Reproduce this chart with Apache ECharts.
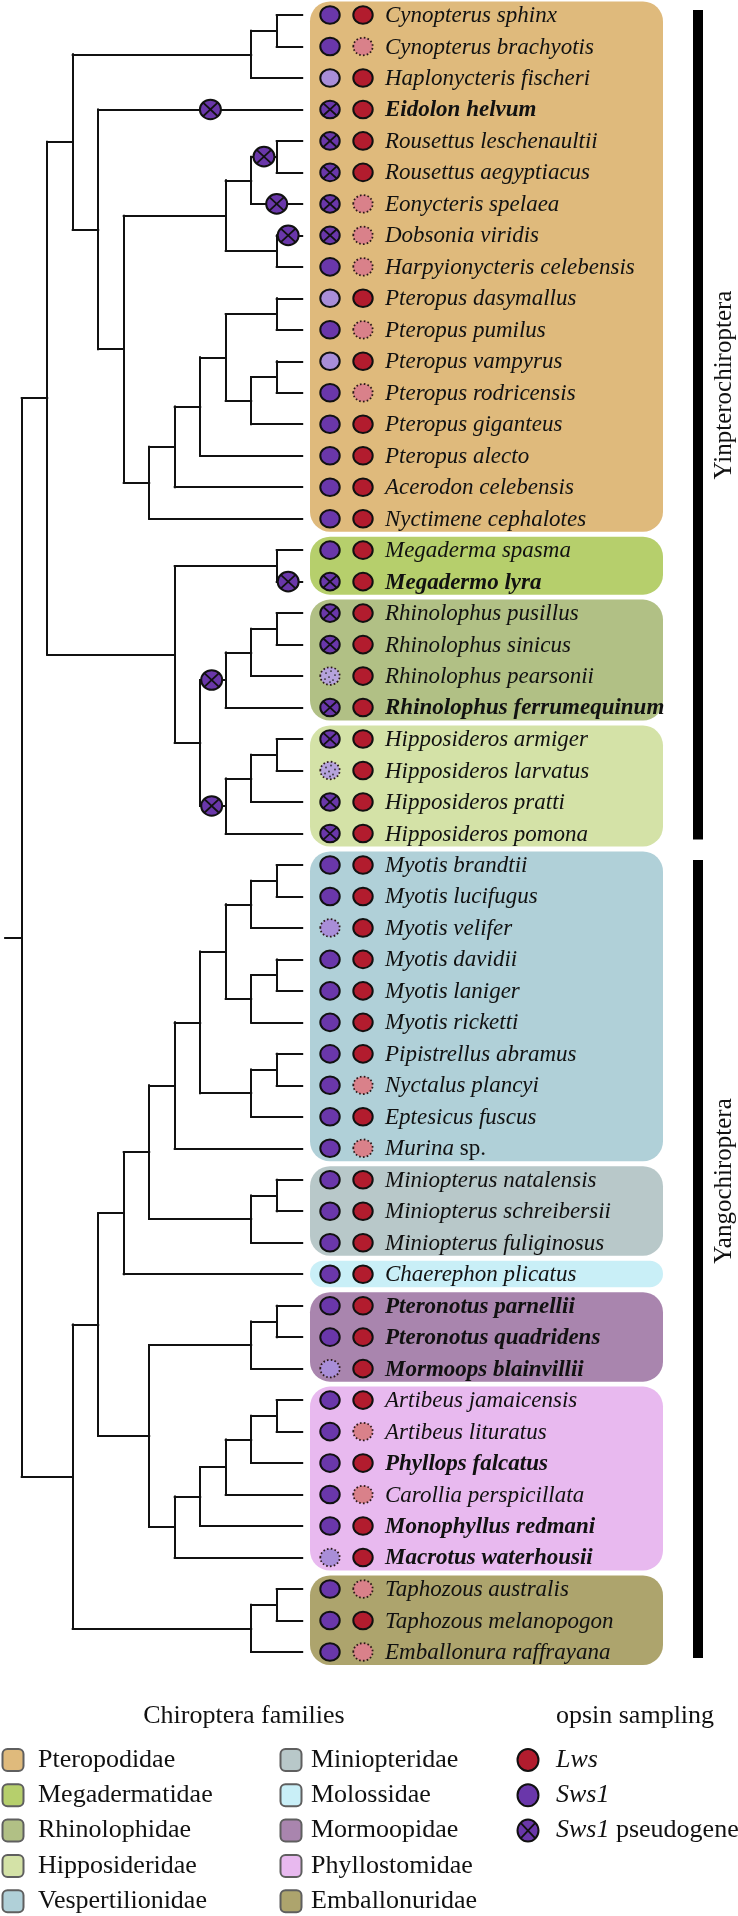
<!DOCTYPE html>
<html><head><meta charset="utf-8">
<script src="https://cdn.jsdelivr.net/npm/echarts@6/dist/echarts.min.js"></script>
<style>html,body{margin:0;padding:0;background:#fff}#chart{width:738px;height:1916px}</style>
</head><body><div id="chart"></div>
<script>
// ---------------- DATA ----------------
const species = ['Cynopterus sphinx','Cynopterus brachyotis','Haplonycteris fischeri','Eidolon helvum','Rousettus leschenaultii','Rousettus aegyptiacus','Eonycteris spelaea','Dobsonia viridis','Harpyionycteris celebensis','Pteropus dasymallus','Pteropus pumilus','Pteropus vampyrus','Pteropus rodricensis','Pteropus giganteus','Pteropus alecto','Acerodon celebensis','Nyctimene cephalotes','Megaderma spasma','Megadermo lyra','Rhinolophus pusillus','Rhinolophus sinicus','Rhinolophus pearsonii','Rhinolophus ferrumequinum','Hipposideros armiger','Hipposideros larvatus','Hipposideros pratti','Hipposideros pomona','Myotis brandtii','Myotis lucifugus','Myotis velifer','Myotis davidii','Myotis laniger','Myotis ricketti','Pipistrellus abramus','Nyctalus plancyi','Eptesicus fuscus','Murina sp.','Miniopterus natalensis','Miniopterus schreibersii','Miniopterus fuliginosus','Chaerephon plicatus','Pteronotus parnellii','Pteronotus quadridens','Mormoops blainvillii','Artibeus jamaicensis','Artibeus lituratus','Phyllops falcatus','Carollia perspicillata','Monophyllus redmani','Macrotus waterhousii','Taphozous australis','Taphozous melanopogon','Emballonura raffrayana'];
const boldSpecies = ['Eidolon helvum','Megadermo lyra','Rhinolophus ferrumequinum','Pteronotus parnellii','Pteronotus quadridens','Mormoops blainvillii','Phyllops falcatus','Monophyllus redmani','Macrotus waterhousii'];
// S intact, L light, X pseudogene, D uncertain (dotted), P uncertain speckled
const sws1Status = ['S','S','L','X','X','X','X','X','S','L','S','L','S','S','S','S','S','S','X','X','X','P','X','X','P','X','X','S','S','D','S','S','S','S','S','S','S','S','S','S','S','S','S','D','S','S','S','S','S','D','S','S','S'];
// S intact, D uncertain (dotted)
const lwsStatus = ['S','D','S','S','S','S','D','D','D','S','D','S','D','S','S','S','S','S','S','S','S','S','S','S','S','S','S','S','S','S','S','S','S','S','D','S','D','S','S','S','S','S','S','S','S','D','S','D','S','S','D','S','D'];
const families = ['Pteropodidae','Megadermatidae','Rhinolophidae','Hipposideridae','Vespertilionidae','Miniopteridae','Molossidae','Mormoopidae','Phyllostomidae','Emballonuridae'];
const familyColors = ['#dfba7c','#b6cf6c','#b1c085','#d4e2a7','#b0d0d8','#b8c8c9','#c9eff7','#a985ae','#e8b9ef','#ada46d'];
const familyFirstRow = [0,17,19,23,27,37,40,41,44,50];
const familyLastRow = [16,18,22,26,36,39,40,43,49,52];
const suborders = ['Yinpterochiroptera','Yangochiroptera'];
const suborderFirstRow = [0,27];
const suborderLastRow = [26,52];
// cladogram: [nodeLevel, child, child...], leaf = row index
const treeNested =
[0,
  [1,
    [2,
      [9, [10, 0, 1], 2],
      [3, 3,
        [4,
          [8, [9, [10, 4, 5], 6], [10, 7, 8]],
          [5, [6, [7, [8, [10, 9, 10], [9, [10, 11, 12], 13]], 14], 15], 16]
        ]
      ]
    ],
    [6,
      [10, 17, 18],
      [7,
        [8, [9, [10, 19, 20], 21], 22],
        [8, [9, [10, 23, 24], 25], 26]
      ]
    ]
  ],
  [2,
    [3,
      [4,
        [5,
          [6, [7, [8, [9, [10, 27, 28], 29], [9, [10, 30, 31], 32]], [9, [10, 33, 34], 35]], 36],
          [9, [10, 37, 38], 39]
        ],
        40
      ],
      [5,
        [9, [10, 41, 42], 43],
        [6, [7, [8, [9, [10, 44, 45], 46], 47], 48], 49]
      ]
    ],
    [9, [10, 50, 51], 52]
  ]
];
// branches carrying an Sws1 pseudogenization event (clade first row, last row, fraction along branch)
const pseudogeneBranchFirst = [3,4,6,7,18,19,23];
const pseudogeneBranchLast  = [3,5,6,7,18,22,26];
const pseudogeneBranchFrac  = [0.55,0.5,0.5,0.45,0.45,0.45,0.45];
const opsinLegendLabels = ['Lws','Sws1','Sws1 pseudogene'];

// ---------------- LAYOUT ----------------
const W = 738, H = 1916;
const ROW0_PX = 15, ROW_PX = 31.48, LEVEL0_PX = 21.7, LEVEL_PX = 25.5;
const XMIN = -LEVEL0_PX / LEVEL_PX, XMAX = XMIN + W / LEVEL_PX;
const YMIN = -ROW0_PX / ROW_PX, YMAX = YMIN + H / ROW_PX;
const LEAF_LEVEL = 11, ROOT_STUB = -0.65;
const SWS_X = 330, LWS_X = 363, TEXT_X = 385, BOX_L = 310, BOX_R = 663;
const BAR_X = 698, BAR_W = 10, BAR_LABEL_X = 724;
const SUB_LABEL_Y = [385, 1181];
const SERIF = '"Liberation Serif","Times New Roman",serif';
const SP_FONT = 23;
const C = {purple:'#6a37aa', lightPurple:'#a98ed8', red:'#b21c2e', pink:'#d9818a', line:'#111'};

// ---------------- TREE ----------------
function build(node){
  if (typeof node === 'number') return {level: LEAF_LEVEL, y: node, first: node, last: node, kids: null};
  const kids = node.slice(1).map(build);
  return {level: node[0], y: (kids[0].y + kids[kids.length-1].y) / 2, first: kids[0].first, last: kids[kids.length-1].last, kids};
}
const root = build(treeNested);
const edges = [], branches = {};
(function walk(n){
  if (!n.kids) return;
  edges.push({coords: [[n.level, n.kids[0].y], [n.level, n.kids[n.kids.length-1].y]]});
  n.kids.forEach(c => {
    edges.push({coords: [[n.level, c.y], [c.level, c.y]]});
    branches[c.first + '-' + c.last] = {x0: n.level, x1: c.level, y: c.y};
    walk(c);
  });
})(root);
edges.push({coords: [[ROOT_STUB, root.y], [0, root.y]]});
const markerData = pseudogeneBranchFirst.map((f, i) => {
  const b = branches[f + '-' + pseudogeneBranchLast[i]];
  return [b.x0 + (b.x1 - b.x0) * pseudogeneBranchFrac[i], b.y];
});

// ---------------- SYMBOLS ----------------
function opsinSymbol(type, cx, cy, lws, rx, ry){
  rx = rx || 9.7; ry = ry || 8.8;
  const els = [];
  const dash = [1.6, 2.2];
  if (type === 'S') {
    els.push({type:'ellipse', shape:{cx, cy, rx, ry}, style:{fill: lws ? C.red : C.purple, stroke:'#111', lineWidth:2}});
  } else if (type === 'L') {
    els.push({type:'ellipse', shape:{cx, cy, rx, ry}, style:{fill: C.lightPurple, stroke:'#111', lineWidth:2}});
  } else if (type === 'D') {
    els.push({type:'ellipse', shape:{cx, cy, rx, ry}, style:{fill: lws ? C.pink : C.lightPurple, stroke:'#2a1717', lineWidth:1.8, lineDash: dash}});
  } else if (type === 'P') {
    els.push({type:'ellipse', shape:{cx, cy, rx, ry}, style:{fill: '#b6a3dc', stroke:'#2a1717', lineWidth:1.8, lineDash: dash}});
    [[-4,-3],[1,-5],[5,-1],[-1,1],[3,4],[-5,3],[0,6]].forEach(d => {
      els.push({type:'circle', shape:{cx: cx + d[0], cy: cy + d[1], r: 0.9}, style:{fill:'#333'}});
    });
  } else if (type === 'X') {
    els.push({type:'ellipse', shape:{cx, cy, rx, ry}, style:{fill: C.purple, stroke:'#111', lineWidth:2}});
    const dx = rx * 0.72, dy = ry * 0.72;
    els.push({type:'line', shape:{x1: cx - dx, y1: cy - dy, x2: cx + dx, y2: cy + dy}, style:{stroke:'#111', lineWidth:1.8}});
    els.push({type:'line', shape:{x1: cx - dx, y1: cy + dy, x2: cx + dx, y2: cy - dy}, style:{stroke:'#111', lineWidth:1.8}});
  }
  return els;
}

function speciesText(name){
  const bold = boldSpecies.indexOf(name) >= 0;
  const w = bold ? 'bold' : 'normal';
  if (/ sp\.$/.test(name)) {
    return {text: '{i|' + name.replace(/ sp\.$/, '') + '}{n| sp.}', w};
  }
  return {text: '{i|' + name + '}', w};
}

// ---------------- CHART ----------------
const chart = echarts.init(document.getElementById('chart'), null, {renderer:'canvas'});
const rowPx = (api, r) => api.coord([0, r])[1];

const legendEls = [];
legendEls.push({type:'text', x:244, y:1716, style:{text:'Chiroptera families', font:'26px ' + SERIF, fill:'#111', textAlign:'center', textVerticalAlign:'middle', align:'center', verticalAlign:'middle'}});
legendEls.push({type:'text', x:635, y:1716, style:{text:'opsin sampling', font:'26px ' + SERIF, fill:'#111', textAlign:'center', textVerticalAlign:'middle', align:'center', verticalAlign:'middle'}});
const LEG_Y0 = 1760, LEG_DY = 35.3;
families.forEach((f, i) => {
  const col = Math.floor(i / 5), r = i % 5;
  const bx = col === 0 ? 13 : 291, tx = col === 0 ? 38 : 311;
  const y = LEG_Y0 + r * LEG_DY;
  legendEls.push({type:'rect', shape:{x: bx - 10.5, y: y - 11, width: 21, height: 22, r: 5}, style:{fill: familyColors[i], stroke:'#5f5f5f', lineWidth:2}});
  legendEls.push({type:'text', x: tx, y: y, style:{text: f, font:'26px ' + SERIF, fill:'#111', textAlign:'left', textVerticalAlign:'middle', align:'left', verticalAlign:'middle'}});
});
const opsinTypes = [['S', true], ['S', false], ['X', false]];
opsinLegendLabels.forEach((lab, i) => {
  const y = LEG_Y0 + i * LEG_DY;
  opsinSymbol(opsinTypes[i][0], 528, y, opsinTypes[i][1], 10.5, 11).forEach(e => legendEls.push(e));
  const txt = lab.replace(/^(\w+)(.*)$/, (m, a, b) => '{i|' + a + '}' + (b ? '{n|' + b + '}' : ''));
  legendEls.push({type:'text', x: 556, y: y, style:{text: txt, fill:'#111', textAlign:'left', textVerticalAlign:'middle', align:'left', verticalAlign:'middle',
    rich:{i:{fontStyle:'italic', fontSize:26, fontFamily: SERIF, fill:'#111'}, n:{fontSize:26, fontFamily: SERIF, fill:'#111'}}}});
});

const option = {
  animation: false,
  backgroundColor: '#fff',
  grid: {left:0, right:0, top:0, bottom:0, containLabel:false},
  xAxis: {type:'value', min: XMIN, max: XMAX, show:false},
  yAxis: {type:'value', min: YMIN, max: YMAX, inverse:true, show:false},
  graphic: {elements: legendEls},
  series: [
    { // family boxes
      type:'custom', z:1,
      data: families.map((f, i) => [familyFirstRow[i], familyLastRow[i], i]),
      renderItem: (params, api) => {
        const t = rowPx(api, api.value(0)) - 13.5, b = rowPx(api, api.value(1)) + 13;
        const h = b - t;
        return {type:'rect', shape:{x: BOX_L, y: t, width: BOX_R - BOX_L, height: h, r: Math.min(20, h / 2)}, style:{fill: familyColors[api.value(2)]}};
      }
    },
    { // suborder bars
      type:'custom', z:1,
      data: suborders.map((s, i) => [suborderFirstRow[i], suborderLastRow[i], i]),
      renderItem: (params, api) => {
        const i = api.value(2);
        const t = rowPx(api, api.value(0)) - 5, b = rowPx(api, api.value(1)) + 6;
        return {type:'group', children:[
          {type:'rect', shape:{x: BAR_X - BAR_W / 2, y: t, width: BAR_W, height: b - t}, style:{fill:'#000'}},
          {type:'text', x: BAR_LABEL_X, y: SUB_LABEL_Y[i], rotation: Math.PI / 2,
           style:{text: suborders[i], font:'25px ' + SERIF, fill:'#111', textAlign:'center', textVerticalAlign:'middle', align:'center', verticalAlign:'middle'}}
        ]};
      }
    },
    { // tree branches
      type:'lines', coordinateSystem:'cartesian2d', polyline:false, z:3,
      lineStyle:{color: C.line, width:2, opacity:1, cap:'square'},
      data: edges
    },
    { // pseudogenization markers on branches
      type:'custom', z:4,
      data: markerData,
      renderItem: (params, api) => {
        const p = api.coord([api.value(0), api.value(1)]);
        return {type:'group', children: opsinSymbol('X', p[0], p[1], false, 10.5, 9.8)};
      }
    },
    { // Sws1 and Lws symbols
      type:'custom', z:4,
      data: species.map((s, i) => [i]),
      renderItem: (params, api) => {
        const r = api.value(0), y = rowPx(api, r);
        return {type:'group', children: opsinSymbol(sws1Status[r], SWS_X, y, false).concat(opsinSymbol(lwsStatus[r], LWS_X, y, true))};
      }
    },
    { // species names
      type:'custom', z:5,
      data: species.map((s, i) => [i]),
      renderItem: (params, api) => {
        const r = api.value(0), y = rowPx(api, r);
        const st = speciesText(species[r]);
        return {type:'text', x: TEXT_X, y: y + 1, style:{text: st.text, fill:'#111', textAlign:'left', textVerticalAlign:'middle', align:'left', verticalAlign:'middle',
          rich:{i:{fontStyle:'italic', fontWeight: st.w, fontSize: SP_FONT, fontFamily: SERIF, fill:'#111'},
                n:{fontWeight: st.w, fontSize: SP_FONT, fontFamily: SERIF, fill:'#111'}}}};
      }
    }
  ]
};
chart.setOption(option);
</script></body></html>
